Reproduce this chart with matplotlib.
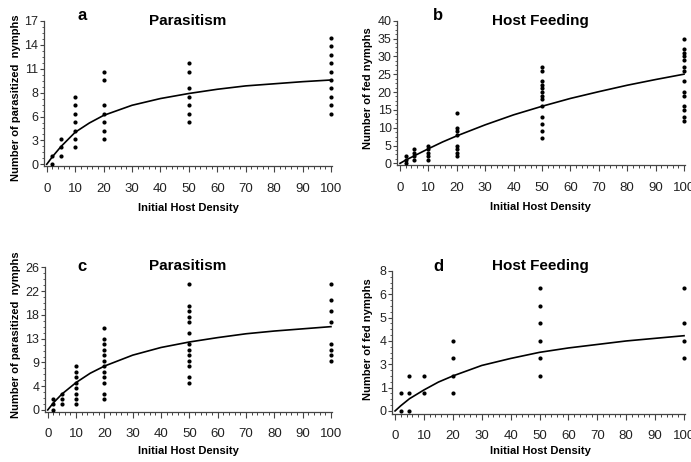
import numpy as np
import matplotlib
matplotlib.use('Agg')
import matplotlib.pyplot as plt
from matplotlib.ticker import MultipleLocator, FixedLocator

plt.rcParams['font.family'] = ['Liberation Sans', 'DejaVu Sans']

# observed counts per initial host density
par_a = {2: [1, 0], 5: [3, 2, 1], 10: [8, 7, 6, 5, 4, 3, 2],
         20: [11, 10, 7, 6, 5, 4, 3], 50: [12, 11, 9, 8, 7, 6, 5],
         100: [15, 14, 13, 12, 11, 10, 9, 8, 7, 6]}
feed_b = {2: [0, 1, 2], 5: [1, 2, 3, 4], 10: [1, 2, 3, 4, 5],
          20: [14, 10, 9, 8, 5, 4, 3, 2],
          50: [27, 26, 23, 22, 21, 20, 19, 18, 16, 13, 11, 9, 7],
          100: [35, 32, 31, 30, 29, 27, 26, 23, 20, 19, 16, 15, 13, 12]}
par_c = {2: [0, 1, 2], 5: [1, 2, 3], 10: [1, 2, 3, 4, 5, 6, 7, 8],
         20: [15, 13, 12, 11, 10, 9, 8, 7, 6, 5, 3, 2],
         50: [23, 19, 18, 17, 16, 14, 12, 11, 10, 9, 8, 6, 5],
         100: [23, 20, 18, 16, 12, 11, 10, 9]}
feed_d = {2: [1, 0], 5: [2, 1, 0], 10: [2, 1], 20: [4, 3, 2, 1],
          50: [7, 6, 5, 4, 3, 2], 100: [7, 5, 4, 3]}

# fitted curves
curve_x = [0, 2, 5, 10, 15, 20, 30, 40, 50, 60, 70, 80, 90, 100]
fit_a = [0, 0.9, 2.1, 3.8, 4.9, 5.8, 7.0, 7.8, 8.4, 8.9, 9.3, 9.55, 9.8, 10.0]
fit_b = [0, 0.9, 2.1, 4.1, 6.0, 7.7, 10.8, 13.6, 16.0, 18.2, 20.1, 21.9, 23.5, 25.0]
fit_c = [0, 1.3, 2.9, 5.0, 6.7, 8.0, 10.0, 11.4, 12.4, 13.2, 13.9, 14.4, 14.8, 15.2]
fit_d = [0, 0.3, 0.7, 1.2, 1.65, 2.0, 2.6, 3.0, 3.35, 3.6, 3.8, 4.0, 4.15, 4.3]

ylab_a = ['0', '3', '6', '8', '11', '14', '17']
ylab_b = ['0', '5', '10', '15', '20', '25', '30', '35', '40']
ylab_c = ['0', '4', '9', '13', '18', '22', '26']
ylab_d = ['0', '1', '3', '4', '5', '6', '8']

W, H = 691, 462
fig = plt.figure(figsize=(W / 100, H / 100), dpi=100)


def px(x, y):
    return x / W, 1 - y / H


def panel(rect, pts, fit, ymax, ylo, ylabels, ylab):
    ax = fig.add_axes(rect)
    for d, vals in pts.items():
        ax.scatter([d] * len(vals), vals, s=9, color='black', zorder=3,
                   clip_on=False, linewidths=0)
    ax.plot(curve_x, fit, color='black', lw=1.2, zorder=2)
    ax.set_xlim(-1, 100.5)
    ax.set_ylim(ylo, ymax)
    ax.xaxis.set_major_locator(MultipleLocator(10))
    ax.xaxis.set_minor_locator(MultipleLocator(2))
    n = len(ylabels)
    ax.yaxis.set_major_locator(FixedLocator(np.linspace(0, ymax, n)))
    ax.yaxis.set_minor_locator(FixedLocator(np.linspace(0, ymax, (n - 1) * 4 + 1)))
    ax.set_yticklabels(ylabels)
    for s in ['top', 'right']:
        ax.spines[s].set_visible(False)
    for s in ['left', 'bottom']:
        ax.spines[s].set_color('#444')
        ax.spines[s].set_linewidth(0.9)
    ax.tick_params(axis='x', which='major', direction='out', length=4,
                   width=0.8, color='#444', labelsize=9.5, pad=8, labelcolor='#222')
    ax.tick_params(axis='x', which='minor', direction='out', length=2.5,
                   width=0.7, color='#444')
    ax.tick_params(axis='y', which='major', direction='out', length=3,
                   width=0.8, color='#444', labelsize=9, pad=1, labelcolor='#222')
    ax.tick_params(axis='y', which='minor', direction='out', length=1.8,
                   width=0.6, color='#444')
    return ax


panel([0.0635, 0.6407, 0.4175, 0.3139], par_a, fit_a, 17, -0.2, ylab_a,
      'Number of parasitized  nymphs')
panel([0.5748, 0.6426, 0.4171, 0.3126], feed_b, fit_b, 40, -0.5, ylab_b,
      'Number of fed nymphs')
panel([0.065, 0.1091, 0.416, 0.312], par_c, fit_c, 26, -0.3, ylab_c,
      'Number of parasitized  nymphs')
panel([0.5675, 0.1048, 0.4245, 0.3087], feed_d, fit_d, 8, -0.15, ylab_d,
      'Number of fed nymphs')

# panel letters, titles and axis labels
fig.text(*px(82, 20), 'a', fontsize=12, fontweight='bold', ha='center', va='baseline')
fig.text(*px(438, 20), 'b', fontsize=12, fontweight='bold', ha='center', va='baseline')
fig.text(*px(82, 271), 'c', fontsize=12, fontweight='bold', ha='center', va='baseline')
fig.text(*px(438, 271), 'd', fontsize=12, fontweight='bold', ha='center', va='baseline')

fig.text(*px(187.5, 25), 'Parasitism', fontsize=11, fontweight='bold', ha='center', va='baseline')
fig.text(*px(540.5, 25), 'Host Feeding', fontsize=11, fontweight='bold', ha='center', va='baseline')
fig.text(*px(187.5, 270), 'Parasitism', fontsize=11, fontweight='bold', ha='center', va='baseline')
fig.text(*px(540.5, 270), 'Host Feeding', fontsize=11, fontweight='bold', ha='center', va='baseline')

fig.text(*px(16, 98), 'Number of parasitized  nymphs', fontsize=8, fontweight='bold',
         rotation=90, ha='center', va='center')
fig.text(*px(368, 88), 'Number of fed nymphs', fontsize=8, fontweight='bold',
         rotation=90, ha='center', va='center')
fig.text(*px(16, 335), 'Number of parasitized  nymphs', fontsize=8, fontweight='bold',
         rotation=90, ha='center', va='center')
fig.text(*px(368, 339), 'Number of fed nymphs', fontsize=8, fontweight='bold',
         rotation=90, ha='center', va='center')

for xc, yc in [(188, 208), (540.5, 207), (188, 451), (540.5, 451)]:
    fig.text(*px(xc, yc), 'Initial Host Density', fontsize=8, fontweight='bold',
             ha='center', va='center')

fig.savefig('out.png', dpi=100)
